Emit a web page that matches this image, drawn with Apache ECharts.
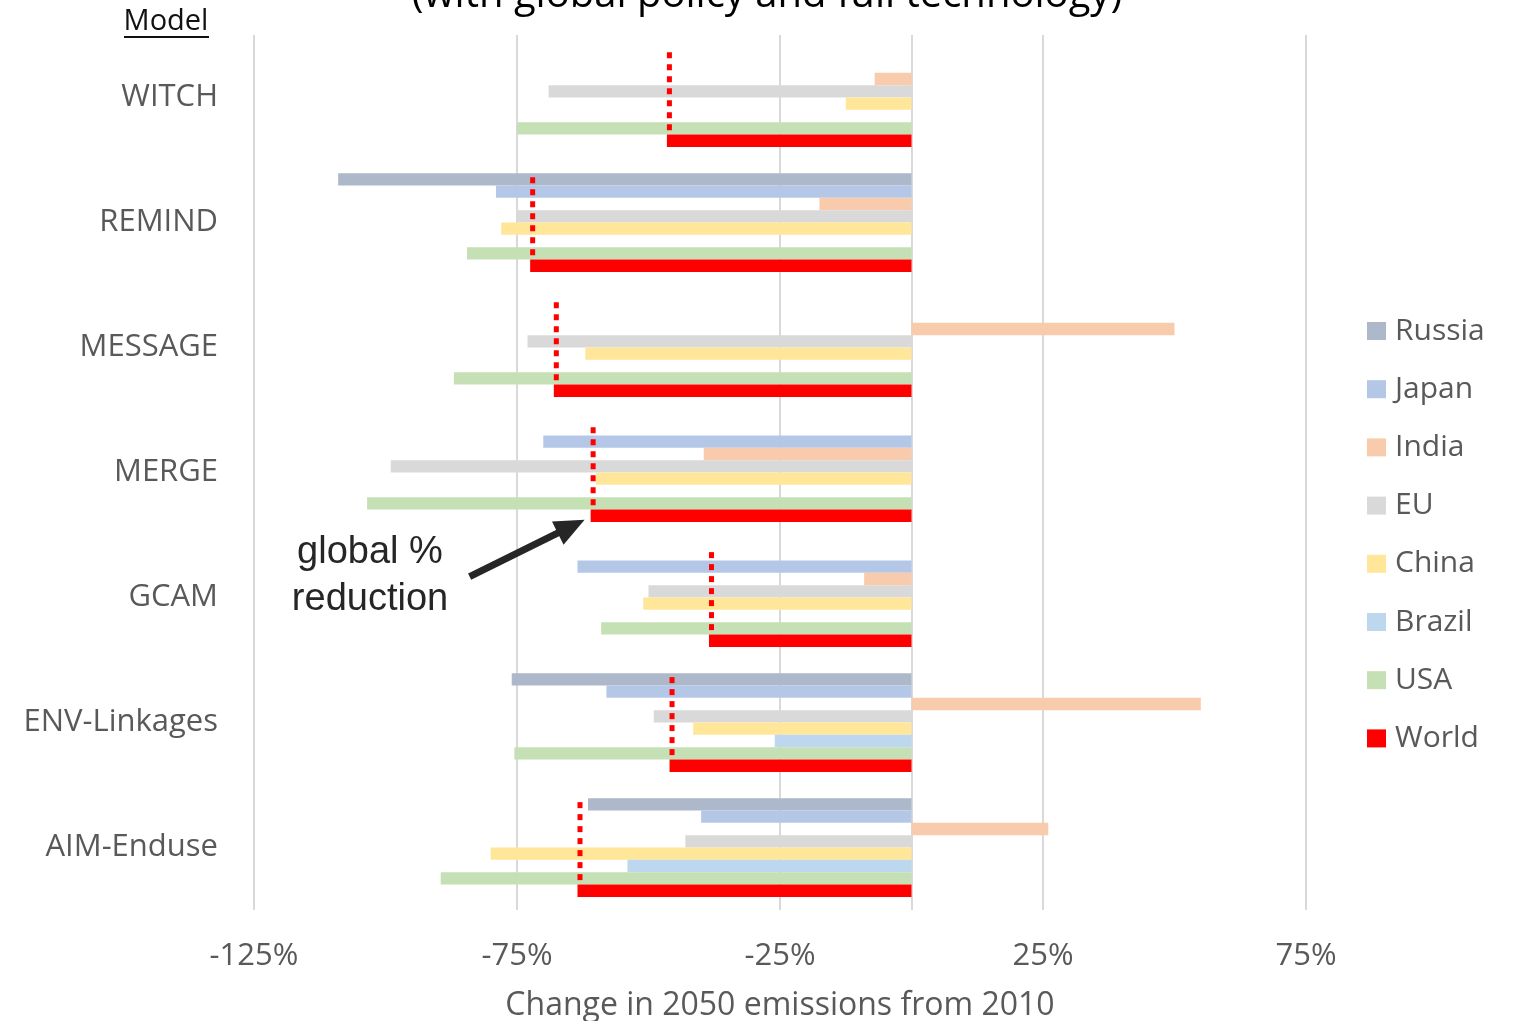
<!DOCTYPE html>
<html>
<head>
<meta charset="utf-8">
<script src="https://cdn.jsdelivr.net/npm/echarts@6/dist/echarts.min.js"></script>
<style>
  html, body { margin: 0; padding: 0; background: #ffffff; }
  #chart { width: 1516px; height: 1021px; }
</style>
</head>
<body>
<div id="chart"></div>
<script>
// Models (one group of bars each), top to bottom
const models = ['WITCH', 'REMIND', 'MESSAGE', 'MERGE', 'GCAM', 'ENV-Linkages', 'AIM-Enduse'];

// Change in 2050 CO2 emissions relative to 2010, percent
const russia = [null, -109, null, null, null, -76, -61.5];
const japan  = [null, -79, null, -70, -63.5, -58, -40];
const india  = [-7, -17.5, 50, -39.5, -9, 55, 26];
const eu     = [-69, -75, -73, -99, -50, -49, -43];
const china  = [-12.5, -78, -62, -60, -51, -41.5, -80];
const brazil = [null, null, null, null, null, -26, -54];
const usa    = [-75, -84.5, -87, -103.5, -59, -75.5, -89.5];
const world  = [-46.5, -72.5, -68, -61, -38.5, -46, -63.5];

// Region names and colours, in drawing order within each group
const regions = ['Russia', 'Japan', 'India', 'EU', 'China', 'Brazil', 'USA', 'World'];
const regionColors = ['#ADB9CA', '#B4C7E7', '#F8CBAD', '#D9D9D9', '#FFE699', '#BDD7EE', '#C5E0B4', '#FF0000'];

// Value-axis tick positions
const xTicks = [-125, -75, -25, 25, 75];

const CATEGORY_GAP = 0.21;
const GRAY = '#595959';
const FONT = '"Open Sans", "DejaVu Sans", sans-serif';

const chart = echarts.init(document.getElementById('chart'), null, { renderer: 'canvas' });

const regionData = [russia, japan, india, eu, china, brazil, usa, world];

const barSeries = regions.map((name, k) => {
  const s = {
    name: name,
    type: 'bar',
    data: regionData[k],
    barGap: '0%',
    barCategoryGap: (CATEGORY_GAP * 100) + '%',
    itemStyle: { color: regionColors[k] },
    emphasis: { disabled: true },
    silent: true,
    z: 2
  };
  if (name === 'World') {
    s.markLine = {
      silent: true,
      symbol: 'none',
      label: { show: false },
      lineStyle: { color: '#D9D9D9', width: 2, type: 'solid' },
      data: [{ xAxis: 0 }],
      z: 1
    };
  }
  return s;
});

// Dotted marker of the global reduction, running down each group to the World bar
const globalMarker = {
  type: 'custom',
  name: 'global',
  silent: true,
  z: 5,
  data: world.map((v, i) => [v, i]),
  encode: { x: 0, y: 1 },
  renderItem: function (params, api) {
    const p = api.coord([api.value(0), api.value(1)]);
    const band = api.size([0, 1])[1];
    const groupH = band * (1 - CATEGORY_GAP);
    const barH = groupH / regions.length;
    const top = p[1] - groupH / 2 + 4;
    const bottom = p[1] + groupH / 2 - barH;
    return {
      type: 'line',
      shape: { x1: p[0] + 2.5, y1: top, x2: p[0] + 2.5, y2: bottom },
      style: { stroke: '#FF0000', lineWidth: 5, lineDash: [6, 6] }
    };
  }
};

const option = {
  animation: false,
  backgroundColor: '#ffffff',
  grid: { left: 254, right: 210, top: 35, bottom: 111, outerBoundsMode: 'none', containLabel: false },
  legend: {
    data: regions,
    orient: 'vertical',
    left: 1367,
    top: 316,
    padding: 0,
    itemWidth: 19,
    itemHeight: 18,
    itemGap: 28.2,
    icon: 'rect',
    selectedMode: false,
    textStyle: { color: GRAY, fontSize: 30, fontFamily: FONT, lineHeight: 30, padding: [0, 0, 0, 4] }
  },
  xAxis: {
    type: 'value',
    min: xTicks[0],
    max: xTicks[xTicks.length - 1],
    interval: xTicks[1] - xTicks[0],
    axisLine: { show: false },
    axisTick: { show: false },
    splitLine: { show: true, lineStyle: { color: '#D9D9D9', width: 2 } },
    axisLabel: {
      color: GRAY, fontSize: 31, fontFamily: FONT, margin: 31,
      formatter: v => v + '%'
    },
    name: 'Change in 2050 emissions from 2010',
    nameLocation: 'middle',
    nameGap: 80,
    nameTextStyle: { color: GRAY, fontSize: 32, fontFamily: FONT }
  },
  yAxis: {
    type: 'category',
    data: models,
    inverse: true,
    axisLine: { show: false },
    axisTick: { show: false },
    splitLine: { show: false },
    axisLabel: { color: GRAY, fontSize: 31, fontFamily: FONT, margin: 36 }
  },
  series: barSeries.concat([globalMarker])
};

chart.setOption(option);

// Title strip, column header and the arrow annotation
function drawAnnotations() {
  const mergeIdx = models.indexOf('MERGE');
  const c = chart.convertToPixel({ xAxisIndex: 0, yAxisIndex: 0 }, [world[mergeIdx], mergeIdx]);
  const band = chart.getModel().getComponent('yAxis', 0).axis.getBandWidth();
  const groupH = band * (1 - CATEGORY_GAP);
  const barH = groupH / regions.length;
  const worldBarY = c[1] + groupH / 2 - barH / 2;

  const tip = [c[0] - 6, worldBarY + 4];
  const tail = [tip[0] - 115, tip[1] + 57];
  const dx = tip[0] - tail[0], dy = tip[1] - tail[1];
  const len = Math.sqrt(dx * dx + dy * dy);
  const ux = dx / len, uy = dy / len;
  const nx = -uy, ny = ux;
  const headLen = 30, headHalf = 13;
  const base = [tip[0] - headLen * ux, tip[1] - headLen * uy];

  chart.setOption({
    graphic: [
      {
        type: 'text', x: 767, y: -4, silent: true,
        style: {
          text: '(with global policy and full technology)',
          font: '40px "Open Sans", sans-serif', fill: '#000000',
          align: 'center', verticalAlign: 'middle'
        }
      },
      {
        type: 'text', x: 166, y: 22, silent: true,
        style: {
          text: 'Model', font: '29px "Open Sans", sans-serif', fill: '#111111',
          align: 'center', verticalAlign: 'middle'
        }
      },
      {
        type: 'line', silent: true,
        shape: { x1: 124, y1: 37, x2: 209, y2: 37 },
        style: { stroke: '#111111', lineWidth: 2 }
      },
      {
        type: 'text', x: 370, y: 576, silent: true,
        style: {
          text: 'global %\nreduction', font: '38px "Liberation Sans", Arial, sans-serif',
          fill: '#262626', align: 'center', verticalAlign: 'middle', lineHeight: 47
        }
      },
      {
        type: 'line', silent: true,
        shape: { x1: tail[0], y1: tail[1], x2: base[0] + 2 * ux, y2: base[1] + 2 * uy },
        style: { stroke: '#262626', lineWidth: 7 }
      },
      {
        type: 'polygon', silent: true,
        shape: {
          points: [
            tip,
            [base[0] + headHalf * nx, base[1] + headHalf * ny],
            [base[0] - headHalf * nx, base[1] - headHalf * ny]
          ]
        },
        style: { fill: '#262626' }
      }
    ]
  });
}
drawAnnotations();
</script>
</body>
</html>
